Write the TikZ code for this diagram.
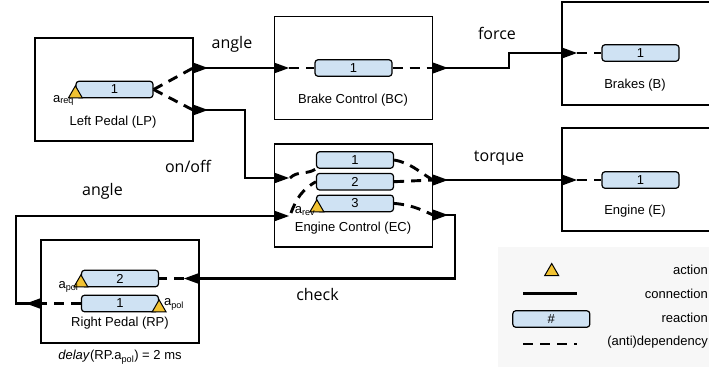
\documentclass[tikz,border=0pt]{standalone}
\usepackage{fontspec}
\setmainfont{Liberation Sans}
\newfontfamily\linkfont{Open Sans}
\usetikzlibrary{shapes.geometric,positioning}
\definecolor{reactblue}{HTML}{CFE2F3}
\definecolor{actyellow}{HTML}{F1C232}
\definecolor{legendgray}{HTML}{F7F7F7}
\tikzset{
  comp/.style={draw=black, line width=1.7pt, minimum width=158pt, minimum height=103pt, inner sep=0pt},
  react/.style={draw=black, line width=1.2pt, fill=reactblue, rounded corners=3pt, minimum width=77pt, minimum height=16.5pt, inner sep=0pt, font=\fontsize{13}{13}\selectfont},
  act/.style={regular polygon, regular polygon sides=3, draw=black, line width=1pt, fill=actyellow, inner sep=0pt, minimum size=16pt},
  conn/.style={line width=2.9pt},
  dep/.style={line width=2.9pt, dash pattern=on 10pt off 7pt},
  txt/.style={font=\fontsize{13}{15}\selectfont, inner sep=0pt},
  sig/.style={font=\linkfont\fontsize{16}{18}\selectfont, inner sep=0pt},
  portR/.pic={\fill (0,-5.5) -- (15,0) -- (0,5.5) -- cycle;},
  portL/.pic={\fill (0,-5.5) -- (-15,0) -- (0,5.5) -- cycle;},
}
\begin{document}
\begin{tikzpicture}[x=1pt, y=-1pt]
    \clip (0,0) rectangle (709,368);
    \fill[legendgray] (498,247) rectangle (712,367);

    % components
    \node[comp] (lp) at (114,89.5) {};
    \node[comp] (bc) at (353.5,68) {};
    \node[comp] (ec) at (353.5,195.5) {};
    \node[comp] (rp) at (120,291.5) {};
    \node[comp] (b) at (641,53.5) {};
    \node[comp] (e) at (641,179.5) {};

    \node[txt] (lpt) at (113,122) {Left Pedal (LP)};
    \node[txt] (bct) at (353,100) {Brake Control (BC)};
    \node[txt] (ect) at (353,228) {Engine Control (EC)};
    \node[txt] (rpt) at (120,323) {Right Pedal (RP)};
    \node[txt] (bt) at (635,85) {Brakes (B)};
    \node[txt] (et) at (635,211.5) {Engine (E)};
    \node[txt] (rpd) at (120,357) {\textit{delay}(RP.a\textsubscript{pol}) = 2 ms};

    % reactions
    \node[react] (lpr1) at (114.5,89.5) {1};
    \node[react] (bcr1) at (353.5,68) {1};
    \node[react] (ecr1) at (355,160) {1};
    \node[react, below=4pt of ecr1] (ecr2) {2};
    \node[react, below=4pt of ecr2] (ecr3) {3};
    \node[react] (rpr2) at (120,278.5) {2};
    \node[react] (rpr1) at (120,303.5) {1};
    \node[react] (br1) at (640.5,53) {1};
    \node[react] (er1) at (640.5,180) {1};

    % actions
    \node[act, anchor=south] (lpa) at (lpr1.south west) {};
    \node[act, anchor=south] (eca) at ([xshift=1pt]ecr3.south west) {};
    \node[act, anchor=south] (rpa2) at (rpr2.south west) {};
    \node[act, anchor=south] (rpa1) at (rpr1.south east) {};
    \node[txt] (lpal) at (63.5,100.5) {a\textsubscript{req}};
    \node[txt] (ecal) at (305,211) {a\textsubscript{rev}};
    \node[txt] (rpal2) at (68.5,287) {a\textsubscript{pol}};
    \node[txt] (rpal1) at (174,304.5) {a\textsubscript{pol}};

    % ports
    \coordinate (lpo1) at (193,68);
    \coordinate (lpo2) at (193,110);
    \coordinate (bci) at (274,68);
    \coordinate (bco) at (433,68);
    \coordinate (bi) at (562,53);
    \coordinate (eci1) at (274,178);
    \coordinate (eci2) at (274,216);
    \coordinate (eco1) at (433,180);
    \coordinate (eco2) at (433,215);
    \coordinate (ei) at (562,180);
    \coordinate (rpi) at (199,278.5);
    \coordinate (rpo) at (41,303.5);

    % dependencies
    \draw[dep] (lpr1.east) -- (lpo1);
    \draw[dep] (lpr1.east) -- (lpo2);
    \draw[dep] (bci) ++(15,0) -- (bcr1.west);
    \draw[dep] (bcr1.east) -- (bco);
    \draw[dep] (bi) ++(15,0) -- (br1.west);
    \draw[dep] (ei) ++(15,0) -- (er1.west);
    \draw[dep] (eci1) ++(16,0) to[out=45,in=215] (ecr1.south west);
    \draw[dep] (eci2) ++(17,-3) to[out=70,in=210] (ecr2.west);
    \draw[dep] (ecr1.east) to[out=-10,in=150] (eco1);
    \draw[dep] (ecr2.east) -- (eco1);
    \draw[dep] (ecr3.east) to[out=-5,in=155] (eco2);
    \draw[dep] (rpi) ++(-15,0) -- (rpr2.east);
    \draw[dep] (rpr1.west) -- (rpo);

    % connections
    \draw[conn] (lpo1) -- (bci);
    \draw[conn] (lpo2) -- ++(52,0) |- (eci1);
    \draw[conn] (bco) -- ++(76,0) |- (bi);
    \draw[conn] (eco1) -- (ei);
    \draw[conn] (eco2) -- ++(22,0) |- (rpi);
    \draw[conn] (rpo) -- ++(-25,0) |- (eci2);

    \foreach \p in {lpo1,lpo2,bci,bco,bi,eci1,eci2,eco1,eco2,ei}
        \pic at (\p) {portR};
    \foreach \p in {rpi,rpo}
        \pic at (\p) {portL};

    \node[sig] (angle1) at (232,44.5) {angle};
    \node[sig] (force) at (497,33.5) {force};
    \node[sig] (torque) at (499,158.5) {torque};
    \node[sig] (onoff) at (188,166.5) {on/off};
    \node[sig] (angle2) at (102.5,191.5) {angle};
    \node[sig] (check) at (317.5,294.5) {check};

    % legend
    \node[act] (lga) at (551.7,271.5) {};
    \coordinate (lgc1) at (523,293.5);
    \coordinate (lgc2) at (577,293.5);
    \draw[conn] (lgc1) -- (lgc2);
    \node[react] (lgr) at (551.3,319) {\#};
    \coordinate (lgd1) at (523,344);
    \coordinate (lgd2) at (577,344);
    \draw[dep] (lgd1) -- (lgd2);
    \node[txt, anchor=east] (lgat) at (708,270) {action};
    \node[txt, anchor=east] (lgct) at (708,294) {connection};
    \node[txt, anchor=east] (lgrt) at (708,318) {reaction};
    \node[txt, anchor=east] (lgdt) at (708,342) {(anti)dependency};
\end{tikzpicture}
\end{document}
